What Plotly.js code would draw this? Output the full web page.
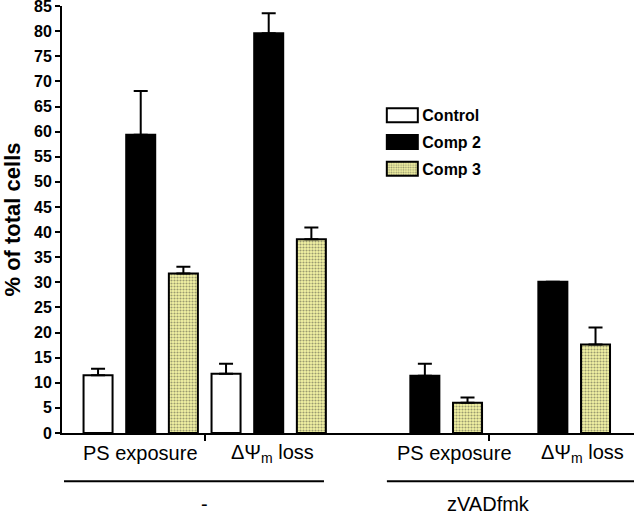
<!DOCTYPE html>
<html>
<head>
<meta charset="utf-8">
<script src="https://cdn.plot.ly/plotly-3.0.1.min.js"></script>
<style>html,body{margin:0;padding:0;background:#fff;}</style>
</head>
<body>
<div id="chart" style="width:634px;height:514px;"></div>
<script>
// ---- data ----
var categories = ["PS exposure", "ΔΨ<sub>m</sub> loss", "PS exposure", "ΔΨ<sub>m</sub> loss"];
var treatments = ["-", "zVADfmk"];
var seriesNames = ["Control", "Comp 2", "Comp 3"];
var controlMean = [11.5, 11.8, null, null];
var controlErr  = [1.3, 2.0, null, null];
var comp2Mean   = [59.4, 79.6, 11.4, 30.1];
var comp2Err    = [8.7, 4.0, 2.4, null];
var comp3Mean   = [31.75, 38.6, 6.0, 17.6];
var comp3Err    = [1.35, 2.3, 1.05, 3.4];
var yTicks = [0,5,10,15,20,25,30,35,40,45,50,55,60,65,70,75,80,85];

// ---- layout helpers (positions computed in code) ----
var groupGap = 0.22;                       // extra space between treatment groups
var xPos = categories.map(function(c, i){ return i + (i >= 2 ? groupGap : 0); });
var labelShift = [0, 0.03, 0.23, 0.23];

function bar(name, mean, err, fill){
  return {
    type: 'bar', name: name, x: xPos, y: mean,
    legendgroup: name,
    marker: {color: fill, line: {color: '#000', width: 2}},
    error_y: {type: 'data', array: err, arrayminus: mean.map(function(){return 0;}),
              symmetric: false, color: '#000', thickness: 2, width: 7},
    hoverinfo: 'none'
  };
}
var tControl = bar(seriesNames[0], controlMean, controlErr, '#ffffff');
var tComp2 = bar(seriesNames[1], comp2Mean, comp2Err, '#000000');
var tComp3 = bar(seriesNames[2], comp3Mean, comp3Err, '#f3f3a4');
tComp3.marker.pattern = {shape: '.', bgcolor: '#f3f3a4', fgcolor: '#9a9a70', size: 3, solidity: 0.4};

var plotTop = 6, plotBottom = 432.7, plotH = plotBottom - plotTop;
var FONT = 'Liberation Sans, Arial, sans-serif';
var annotations = [];
categories.forEach(function(c, i){
  annotations.push({text: c, x: xPos[i] + labelShift[i], xref: 'x', y: 0, yref: 'paper',
    yanchor: 'middle', xanchor: 'center', yshift: -20, showarrow: false,
    font: {family: FONT, size: 20, color: '#000'}});
});
var groupLabelX = [0.249, 0.745];
treatments.forEach(function(t, i){
  annotations.push({text: t, x: groupLabelX[i], xref: 'paper', y: 0, yref: 'paper',
    yanchor: 'middle', xanchor: 'center', yshift: -71, showarrow: false,
    font: {family: FONT, size: 20, color: '#000'}});
});
var lineY = (plotBottom - 481) / plotH;
var shapes = [
  {type: 'line', xref: 'paper', yref: 'paper', x0: 0.0035, x1: 0.458, y0: lineY, y1: lineY, line: {color: '#000', width: 2}},
  {type: 'line', xref: 'paper', yref: 'paper', x0: 0.568, x1: 1.0, y0: lineY, y1: lineY, line: {color: '#000', width: 2}}
];

var layout = {
  width: 634, height: 514,
  margin: {l: 62, r: 0, t: 6, b: 81, pad: 0},
  paper_bgcolor: '#fff', plot_bgcolor: '#fff',
  barmode: 'group', bargap: 0, bargroupgap: 0.32,
  font: {family: FONT, color: '#000'},
  xaxis: {range: [-0.615, 3.854], showgrid: false, zeroline: false,
    showline: true, linecolor: '#000', linewidth: 2,
    tickvals: [xPos[0] + 0.5, xPos[2] + 0.5], ticktext: ['', ''],
    ticks: 'outside', ticklen: 6, tickwidth: 2, tickcolor: '#000', fixedrange: true},
  yaxis: {range: [0, 85.02], tickvals: yTicks, showgrid: false, zeroline: false,
    showline: true, linecolor: '#000', linewidth: 2,
    ticks: 'outside', ticklen: 5, tickwidth: 2, tickcolor: '#000',
    ticklabeloverflow: 'allow',
    tickfont: {family: FONT, size: 16, color: '#000', weight: 'bold'},
    title: {text: '<b>% of total cells</b>', font: {family: FONT, size: 22, color: '#000'}, standoff: 12},
    fixedrange: true},
  showlegend: true,
  legend: {x: 0.56, y: 0.784, xanchor: 'left', yanchor: 'top', traceorder: 'grouped',
    tracegroupgap: 3, bgcolor: 'rgba(0,0,0,0)',
    font: {family: FONT, size: 16, color: '#000', weight: 'bold'}},
  annotations: annotations,
  shapes: shapes
};
Plotly.newPlot('chart', [tControl, tComp2, tComp3], layout, {staticPlot: true, displayModeBar: false})
  .then(function(gd){
    // widen the legend swatches to the reference's wide boxes
    gd.querySelectorAll('.legend .legendpoints path').forEach(function(p){
      p.setAttribute('d', 'M15.5,7H-15.5V-7H15.5Z');
    });
  });
</script>
</body>
</html>
